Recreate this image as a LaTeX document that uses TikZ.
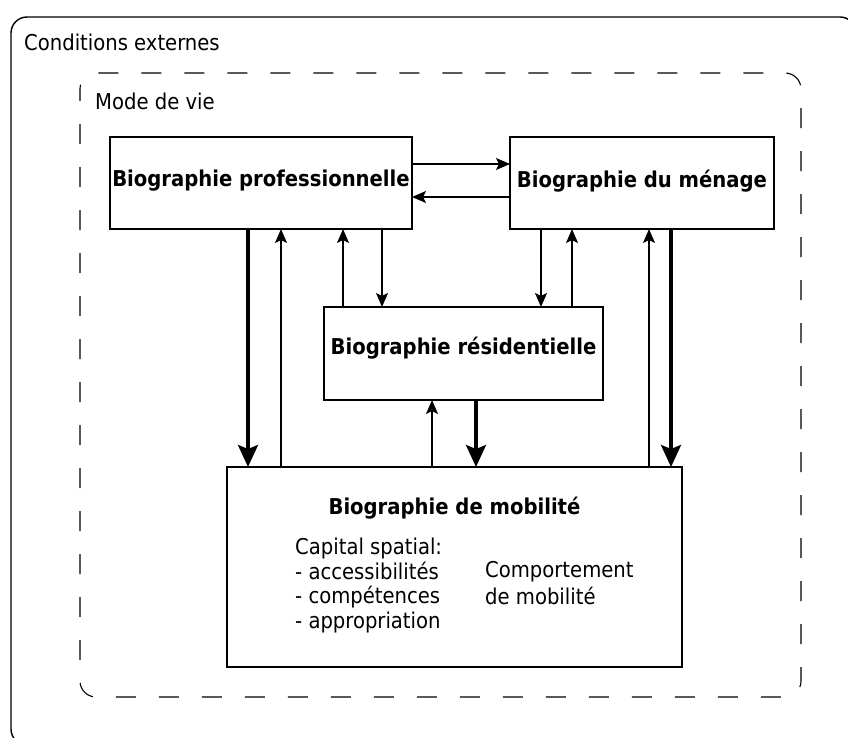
\documentclass[tikz,border=0pt]{standalone}
\usepackage{fontspec}
\IfFontExistsTF{DejaVu Sans Condensed}{\setmainfont{DejaVu Sans Condensed}}{\setmainfont{DejaVu Sans}[FakeStretch=0.9]}
\usetikzlibrary{arrows.meta}
\begin{document}
\begin{tikzpicture}[x=1pt,y=-1pt,
  font=\fontsize{21.8}{25}\selectfont,
  bio/.style={inner sep=0pt, font=\fontsize{21.8}{25}\selectfont\bfseries},
  frame/.style={line width=1.4pt},
  thin/.style={line width=1.3pt, -{Stealth[length=14pt,width=12pt,inset=3pt]}},
  thick/.style={line width=3.4pt, -{Stealth[length=22pt,width=20pt,inset=4pt]}},
  txt/.style={inner sep=0pt, anchor=west, align=left}]
\useasboundingbox (0,0) rectangle (848,738);
\fill[white] (0,0) rectangle (848,738);
% outer frame
\draw[frame, rounded corners=16pt] (11,17) rectangle (856,745);
\node[txt] (cond) at (24,42) {Conditions externes};
% inner dashed frame
\draw[line width=1.1pt, dash pattern=on 20pt off 23pt, dash phase=8pt, rounded corners=16pt] (80,73) rectangle (801,697);
\node[txt] (mode) at (95,101) {Mode de vie};
% boxes
\draw[frame] (110,137) rectangle (412,229);
\node[bio] (prof) at (261,181) {Biographie professionnelle};
\draw[frame] (510,137) rectangle (774,229);
\node[bio] (men) at (642,181) {Biographie du ménage};
\draw[frame] (324,307) rectangle (603,400);
\node[bio] (res) at (463.5,348) {Biographie résidentielle};
\draw[frame] (227,467) rectangle (682,667);
\node[bio] (mob) at (454.5,508) {Biographie de mobilité};
\node[txt, anchor=north west, font=\fontsize{21.8}{24.5}\selectfont] (cap) at (295,538) {Capital spatial:\\- accessibilités\\- compétences\\- appropriation};
\node[txt, anchor=north west, font=\fontsize{21.8}{27}\selectfont] (comp) at (485,561) {Comportement\\de mobilité};
% edge coordinates
\coordinate (pR1) at (412,164); \coordinate (mL1) at (510,164);
\coordinate (pR2) at (412,197); \coordinate (mL2) at (510,197);
\draw[thin] (pR1) -- (mL1);
\draw[thin] (mL2) -- (pR2);
% prof <-> mob
\coordinate (pB1) at (248,229); \coordinate (mT1) at (248,467);
\coordinate (pB2) at (281,229); \coordinate (mT2) at (281,467);
\draw[thick] (pB1) -- (mT1);
\draw[thin] (mT2) -- (pB2);
% prof <-> res
\coordinate (pB3) at (343,229); \coordinate (rT3) at (343,307);
\coordinate (pB4) at (382,229); \coordinate (rT4) at (382,307);
\draw[thin] (rT3) -- (pB3);
\draw[thin] (pB4) -- (rT4);
% men <-> res
\coordinate (mB5) at (541,229); \coordinate (rT5) at (541,307);
\coordinate (mB6) at (572,229); \coordinate (rT6) at (572,307);
\draw[thin] (mB5) -- (rT5);
\draw[thin] (rT6) -- (mB6);
% men <-> mob
\coordinate (mB7) at (649,229); \coordinate (bT7) at (649,467);
\coordinate (mB8) at (671,229); \coordinate (bT8) at (671,467);
\draw[thin] (bT7) -- (mB7);
\draw[thick] (mB8) -- (bT8);
% res <-> mob
\coordinate (rB9) at (432,400); \coordinate (bT9) at (432,467);
\coordinate (rB10) at (476,400); \coordinate (bT10) at (476,467);
\draw[thin] (bT9) -- (rB9);
\draw[thick] (rB10) -- (bT10);
\end{tikzpicture}
\end{document}
